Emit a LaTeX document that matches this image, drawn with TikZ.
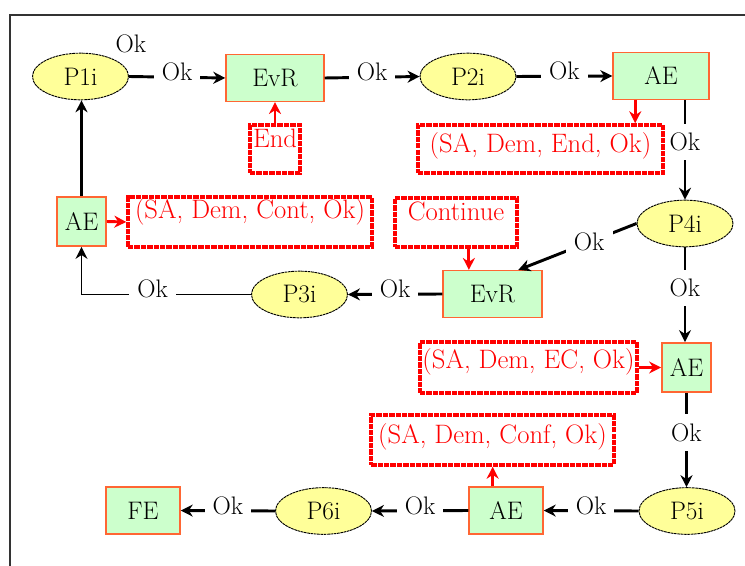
\documentclass[tikz,border=0pt]{standalone}
\usepackage{tikz}
\usetikzlibrary{calc,shapes.geometric,arrows.meta}
\definecolor{procfill}{RGB}{255,255,153}
\definecolor{actfill}{RGB}{204,255,204}
\definecolor{actline}{RGB}{255,102,51}
\definecolor{msgred}{RGB}{255,0,0}
\newcommand{\bigfont}{\fontsize{19}{22}\selectfont}
\newcommand{\msgfont}{\fontsize{20}{23}\selectfont}
\tikzset{
  proc/.style={ellipse, draw=black, line width=0.7pt, dash pattern=on 2pt off 0.5pt,
    fill=procfill, minimum width=72pt, minimum height=35pt, inner sep=0pt, font=\bigfont},
  act/.style={rectangle, draw=actline, line width=1.1pt, fill=actfill,
    minimum height=35pt, inner sep=0pt, font=\bigfont},
  msg/.style={rectangle, draw=msgred, line width=2.6pt, dash pattern=on 4pt off 0.8pt,
    text=msgred, inner sep=0pt, font=\msgfont},
  flow/.style={draw=black, line width=2.2pt, -{Stealth[length=9pt,width=9pt]}},
  msgflow/.style={draw=msgred, line width=2.2pt, -{Stealth[length=9pt,width=9pt]}},
  ok/.style={fill=white, inner xsep=6pt, inner ysep=3pt, font=\bigfont},
  okv/.style={ok, inner xsep=1pt, inner ysep=7pt},
}
\begin{document}
\begin{tikzpicture}[x=0.75pt,y=-0.75pt]
    \useasboundingbox (0,0) rectangle (745,566);

    % frame
    \draw[line width=1.2pt, black!80] (10,566) -- (10,15) -- (745,15);

    % top row
    \node[proc] (P1i) at (80.5,76.5) {P1i};
    \node[font=\bigfont] (okP1) at (131,44) {Ok};
    \node[act, minimum width=73.5pt] (EvR1) at (275,78) {EvR};
    \node[proc] (P2i) at (468,76.5) {P2i};
    \node[act, minimum width=72pt] (AE1) at (661,76) {AE};

    % messages under the top row
    \node[msg, minimum width=37.5pt, text height=17pt, text depth=19pt] (mEnd) at (275,149) {End};
    \node[msg, minimum width=184pt, text height=21pt, text depth=15pt] (mSAEnd) at (540.5,149) {(SA, Dem, End, Ok)};

    % middle rows
    \node[act, minimum width=37pt, minimum height=37pt] (AE2) at (81.5,221.5) {AE};
    \node[msg, minimum width=183pt, text height=16pt, text depth=21.5pt] (mSACont) at (250,222) {(SA, Dem, Cont, Ok)};
    \node[msg, minimum width=91.5pt, text height=17pt, text depth=20pt] (mCont) at (456,222.5) {Continue};
    \node[proc] (P4i) at (685,223.5) {P4i};
    \node[act, minimum width=74pt] (EvR2) at (492.5,294) {EvR};
    \node[proc] (P3i) at (299.5,294.5) {P3i};
    \node[act, minimum width=37pt, minimum height=37pt] (AE3) at (686.5,367.5) {AE};
    \node[msg, minimum width=163pt, text height=20pt, text depth=18pt] (mSAEC) at (528.5,367.5) {(SA, Dem, EC, Ok)};
    \node[msg, minimum width=182pt, text height=21pt, text depth=16.5pt] (mSAConf) at (492.5,440) {(SA, Dem, Conf, Ok)};

    % bottom row
    \node[proc] (P5i) at (687,511) {P5i};
    \node[act, minimum width=55.5pt] (AE4) at (506,510.5) {AE};
    \node[proc] (P6i) at (323.5,511) {P6i};
    \node[act, minimum width=55.5pt] (FE) at (143,510.5) {FE};

    % Ok flow
    \draw[flow] (P1i.east) -- node[ok, yshift=4pt] {Ok} (EvR1.west);
    \draw[flow] (EvR1.east) -- node[ok, yshift=4pt] {Ok} (P2i.west);
    \draw[flow] (P2i.east) -- node[ok, yshift=4pt] {Ok} (AE1.west);
    \draw[flow] (AE1.south -| P4i.north) -- node[okv, pos=0.42] {Ok} (P4i.north);
    \draw[flow] (P4i.west) -- node[ok, pos=0.4] {Ok} (EvR2.43);
    \draw[flow] (P4i.south) -- node[okv, pos=0.43] {Ok} (P4i.south |- AE3.north);
    \draw[flow] (EvR2.west) -- node[ok, yshift=4pt] {Ok} (P3i.east);
    \draw[flow, line width=1.4pt] (P3i.west) -| node[ok, pos=0.29, yshift=4pt] {Ok} (AE2.south);
    \draw[flow] (AE2.north) -- (AE2.north |- P1i.south);
    \draw[flow] (AE3.south) -- node[okv, pos=0.42] {Ok} (AE3.south |- P5i.north);
    \draw[flow] (P5i.west) -- node[ok, yshift=4pt] {Ok} (AE4.east);
    \draw[flow] (AE4.west) -- node[ok, yshift=4pt] {Ok} (P6i.east);
    \draw[flow] (P6i.west) -- node[ok, yshift=4pt] {Ok} (FE.east);

    % message arrows
    \draw[msgflow] (mEnd.north) -- (EvR1.south);
    \draw[msgflow] (AE1.223) -- (AE1.223 |- mSAEnd.north);
    \draw[msgflow] (AE2.east) -- (mSACont.west);
    \draw[msgflow] (mCont.-64) -- (mCont.-64 |- EvR2.north);
    \draw[msgflow] (mSAEC.east) -- (AE3.west);
    \draw[msgflow] (AE4.119) -- (AE4.119 |- mSAConf.south);
\end{tikzpicture}
\end{document}
